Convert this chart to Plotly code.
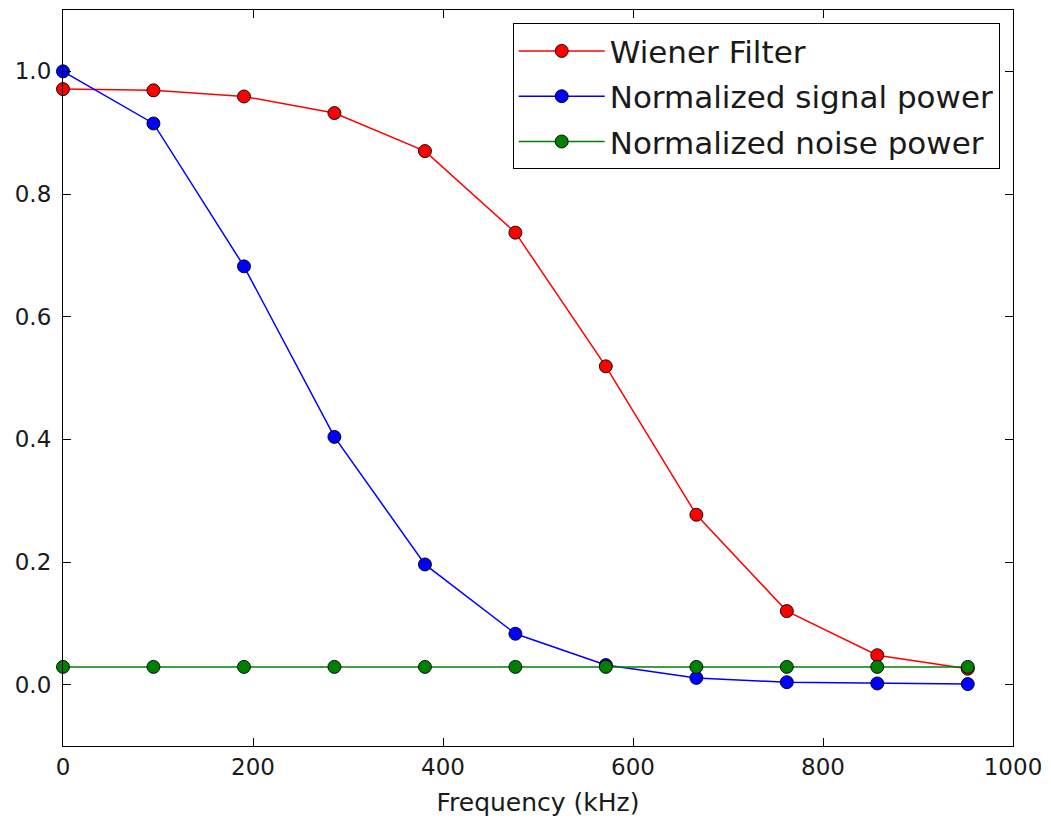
import plotly.graph_objects as go

# Frequency bins (kHz)
freq_khz = [0.0, 95.2, 190.5, 285.7, 381.0, 476.2, 571.4, 666.7, 761.9, 857.1, 952.4]

# Series values
wiener = [0.971, 0.969, 0.959, 0.932, 0.870, 0.737, 0.519, 0.277, 0.120, 0.048, 0.026]
signal_power = [1.000, 0.915, 0.682, 0.404, 0.196, 0.083, 0.032, 0.011, 0.004, 0.002, 0.001]
noise_power = [0.029, 0.029, 0.029, 0.029, 0.029, 0.029, 0.029, 0.029, 0.029, 0.029, 0.029]

series = [
    ("Wiener Filter", wiener, "#ff0000"),
    ("Normalized signal power", signal_power, "#0000ff"),
    ("Normalized noise power", noise_power, "#007f00"),
]

FONT = "DejaVu Sans"
TEXT_COLOR = "#1a1a1a"

fig = go.Figure()
for name, values, color in series:
    fig.add_trace(go.Scatter(
        x=freq_khz,
        y=values,
        name=name,
        mode="lines+markers",
        line=dict(color=color, width=1.5),
        marker=dict(color=color, size=13, line=dict(color="black", width=0.9)),
        cliponaxis=False,
        legendgroup=name,
    ))

axis_common = dict(
    showline=True,
    linecolor="black",
    linewidth=1.2,
    mirror="ticks",
    ticks="inside",
    ticklen=8,
    tickwidth=1,
    tickcolor="black",
    showgrid=False,
    zeroline=False,
    tickfont=dict(family=FONT, size=23, color=TEXT_COLOR),
)

fig.update_xaxes(
    range=[0, 1000],
    tickvals=[0, 200, 400, 600, 800, 1000],
    title=dict(text="Frequency (kHz)", font=dict(family=FONT, size=25, color=TEXT_COLOR), standoff=14),
    **axis_common,
)
fig.update_yaxes(
    range=[-0.1, 1.1],
    tickvals=[0.0, 0.2, 0.4, 0.6, 0.8, 1.0],
    tickformat=".1f",
    ticklabelstandoff=6,
    **axis_common,
)

fig.update_layout(
    width=1051,
    height=821,
    margin=dict(l=63, r=35, t=9, b=75),
    paper_bgcolor="white",
    plot_bgcolor="white",
    showlegend=True,
    legend=dict(
        x=0.986, y=0.982,
        xanchor="right", yanchor="top",
        bgcolor="white",
        bordercolor="black",
        borderwidth=1,
        font=dict(family=FONT, size=31, color=TEXT_COLOR),
        traceorder="grouped",
        tracegroupgap=2,
        itemwidth=86,
    ),
)

fig.write_html("out.html")
